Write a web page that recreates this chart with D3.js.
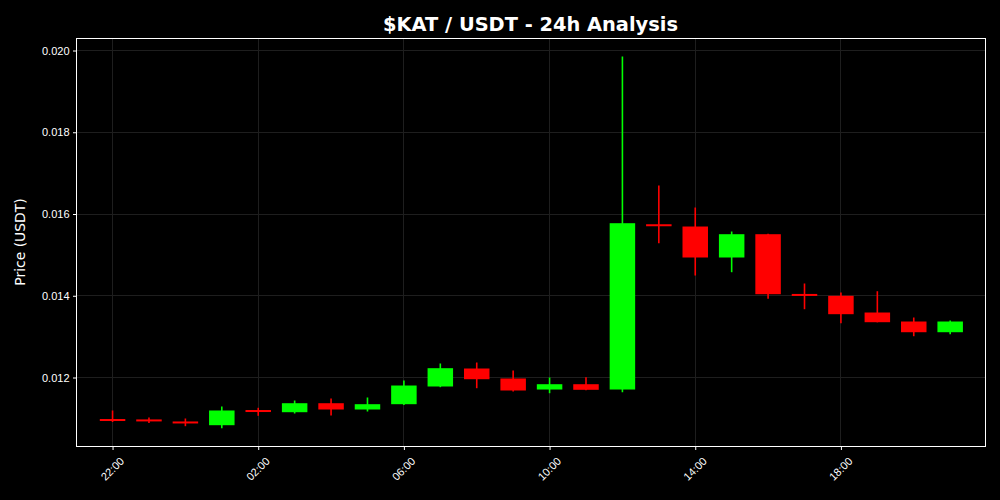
<!DOCTYPE html>
<html>
<head>
<meta charset="utf-8">
<script src="https://cdn.jsdelivr.net/npm/d3@7"></script>
<style>
  body { margin: 0; background: #000; }
  svg { display: block; font-family: "DejaVu Sans", sans-serif; }
</style>
</head>
<body>
<div class="chart"></div>
<script>
// hourly candles, 22:00 -> 21:00
const hours = ['22:00','23:00','00:00','01:00','02:00','03:00','04:00','05:00','06:00','07:00','08:00','09:00',
  '10:00','11:00','12:00','13:00','14:00','15:00','16:00','17:00','18:00','19:00','20:00','21:00']
const opens  = [0.01096,0.01095,0.01090,0.010833,0.01118,0.011151,0.011371,0.011217,0.011347,0.011780,0.012220,0.011976,
  0.011706,0.011836,0.011706,0.015725,0.015694,0.014936,0.015506,0.014020,0.013999,0.013590,0.013370,0.013108]
const highs  = [0.011193,0.01102,0.010997,0.011291,0.011259,0.011437,0.011486,0.011511,0.011927,0.012343,0.012367,0.012171,
  0.012000,0.012007,0.019853,0.016697,0.016159,0.015572,0.015520,0.014300,0.014080,0.014111,0.013468,0.013394]
const lows   = [0.010911,0.01089,0.010809,0.010760,0.011063,0.011119,0.011070,0.011168,0.011327,0.011763,0.011738,0.011657,
  0.011616,0.011690,0.011640,0.015286,0.014495,0.014576,0.013925,0.013671,0.013328,0.013350,0.013010,0.013059]
const closes = [0.01094,0.01093,0.01088,0.011193,0.01116,0.011371,0.011217,0.011347,0.011804,0.012228,0.011958,0.011682,
  0.011836,0.011699,0.015775,0.015705,0.014936,0.015506,0.014038,0.014005,0.013549,0.013353,0.013108,0.013370]
const yTicks = [0.012, 0.014, 0.016, 0.018, 0.020]
const xTickLabels = ['22:00','02:00','06:00','10:00','14:00','18:00']

const Data = hours.map((h, i) => ({ i: i, hour: h, open: opens[i], high: highs[i], low: lows[i], close: closes[i] }))

const W = 1000, H = 500
const margin = ({top: 38, right: 15, bottom: 54, left: 76})
const width = W - margin.left - margin.right,
  height = H - margin.top - margin.bottom

const svg = d3.select(".chart").append("svg")
  .attr("width", W)
  .attr("height", H)
  .style("background", "#000")

const g = svg.append("g")
  .attr("transform", `translate(${margin.left + 0.5},${margin.top + 0.5})`)

const x = d3.scaleLinear().domain([-0.99, 23.97]).range([0, width])
const y = d3.scaleLinear().domain([0.010312, 0.020294]).range([height, 0])

// grid
g.selectAll('.ygrid').data(yTicks).enter().append('line')
  .attr('x1', 0).attr('x2', width)
  .attr('y1', d => Math.round(y(d))).attr('y2', d => Math.round(y(d)))
  .attr('stroke', '#1e1e1e').attr('stroke-width', 1)
g.selectAll('.xgrid').data(xTickLabels).enter().append('line')
  .attr('x1', d => Math.round(x(hours.indexOf(d)))).attr('x2', d => Math.round(x(hours.indexOf(d))))
  .attr('y1', 0).attr('y2', height)
  .attr('stroke', '#1e1e1e').attr('stroke-width', 1)

const color = d => d.close >= d.open ? '#00ff00' : '#ff0000'
const bw = x(0.35) - x(-0.35)

// wicks
g.selectAll('.wick').data(Data).enter().append('line')
  .attr('x1', d => x(d.i)).attr('x2', d => x(d.i))
  .attr('y1', d => y(d.high)).attr('y2', d => y(d.low))
  .attr('stroke', color).attr('stroke-width', 1.6)

// bodies
g.selectAll('.body').data(Data).enter().append('rect')
  .attr('x', d => x(d.i) - bw / 2)
  .attr('width', bw)
  .attr('y', d => Math.min(y(d.open), y(d.close)) - (Math.abs(y(d.open) - y(d.close)) < 2 ? 1 : 0))
  .attr('height', d => Math.max(Math.abs(y(d.open) - y(d.close)), 2))
  .attr('fill', color)

// axes
const xAxis = d3.axisBottom(x)
  .tickValues(xTickLabels.map(d => hours.indexOf(d)))
  .tickFormat(i => hours[i])
  .tickSize(3.5).tickPadding(3.5)
const xg = g.append("g")
  .attr("transform", `translate(0, ${height})`)
  .call(xAxis)
xg.selectAll('text')
  .attr('font-size', 11).attr('fill', '#fff')
  .attr('text-anchor', 'middle')
  .attr('dy', null)
  .attr('y', 0)
  .attr('transform', 'translate(0,23) rotate(-45)')
  .attr('dominant-baseline', 'middle')

const yAxis = d3.axisLeft(y)
  .tickValues(yTicks)
  .tickFormat(d3.format('.3f'))
  .tickSize(3.5).tickPadding(3.5)
const yg = g.append("g").call(yAxis)
yg.selectAll('text').attr('font-size', 11).attr('fill', '#fff')

g.selectAll('.domain').remove()
g.selectAll('.tick line').attr('stroke', '#fff')
g.append('rect')
  .attr('width', width).attr('height', height)
  .attr('fill', 'none').attr('stroke', '#fff').attr('stroke-width', 1)

svg.append("text")
  .attr('x', margin.left + width / 2)
  .attr('y', 30.5)
  .attr('text-anchor', 'middle')
  .attr('font-size', 19.4)
  .attr('font-weight', 'bold')
  .attr('fill', '#fff')
  .text("$KAT / USDT - 24h Analysis")

svg.append("text")
  .attr('transform', `translate(25, ${margin.top + height / 2}) rotate(-90)`)
  .attr('text-anchor', 'middle')
  .attr('font-size', 13.9)
  .attr('fill', '#fff')
  .text("Price (USDT)")
</script>
</body>
</html>
